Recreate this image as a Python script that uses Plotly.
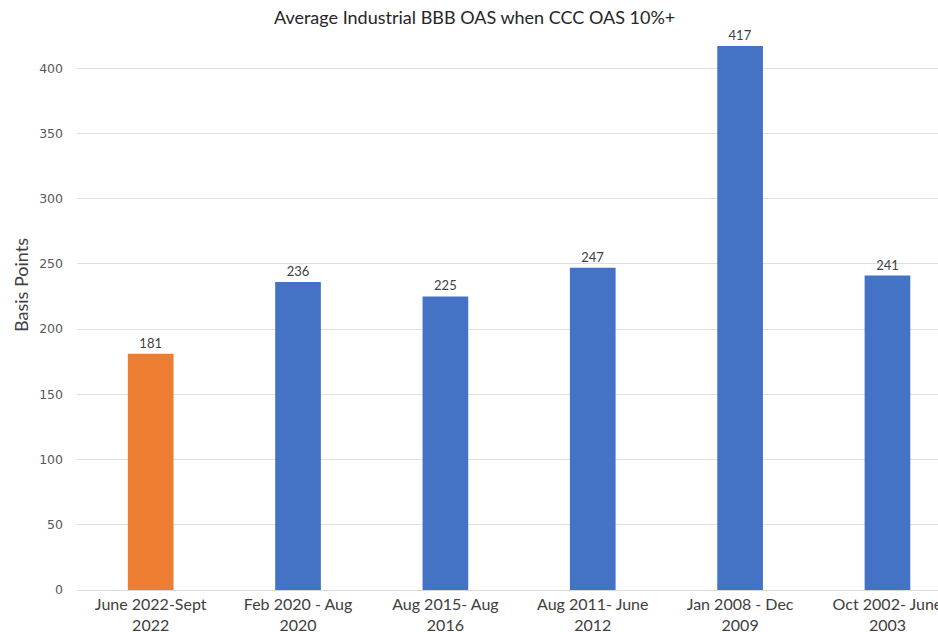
import plotly.graph_objects as go

categories = ["June 2022-Sept<br>2022", "Feb 2020 - Aug<br>2020", "Aug 2015- Aug<br>2016",
              "Aug 2011- June<br>2012", "Jan 2008 - Dec<br>2009", "Oct 2002- June<br>2003"]
values = [181, 236, 225, 247, 417, 241]
colors = ["#ED7D31", "#4472C4", "#4472C4", "#4472C4", "#4472C4", "#4472C4"]
y_ticks = [0, 50, 100, 150, 200, 250, 300, 350, 400]

fig = go.Figure(go.Bar(
    x=list(range(len(categories))), y=values, marker=dict(color=colors, line=dict(width=0)),
    width=0.31, text=[str(v) for v in values], textposition="outside",
    textfont=dict(family="Lato", size=13, color="#404040"), cliponaxis=False,
))
fig.update_layout(
    width=938, height=632,
    margin=dict(l=77, r=0, t=29, b=42),
    paper_bgcolor="white", plot_bgcolor="white",
    font=dict(family="Lato", color="#595959"),
    title=dict(text="Average Industrial BBB OAS when CCC OAS 10%+", x=0.506, xanchor="center",
               y=0.972, yanchor="middle", font=dict(family="Lato", size=18, color="#262626")),
    showlegend=False,
    annotations=[dict(text="Basis Points", textangle=-90, xref="paper", yref="paper",
                      x=-0.065, y=0.5437, xanchor="center", yanchor="middle", showarrow=False,
                      font=dict(family="Lato", size=18, color="#404040"))],
)
fig.update_xaxes(
    tickmode="array", tickvals=list(range(len(categories))), ticktext=categories,
    range=[-0.5, 5.343], showgrid=False, showline=True, linecolor="#d9d9d9", linewidth=1,
    tickfont=dict(family="Lato", size=16, color="#404040"), ticks="", zeroline=False,
    ticklabeloverflow="allow", automargin=False,
)
fig.update_yaxes(
    range=[0, 430], tickvals=y_ticks, showgrid=True, gridcolor="#e0e0e0", gridwidth=1,
    zeroline=False, showline=False, ticks="", ticklabelstandoff=13, automargin=False,
    tickfont=dict(family="DejaVu Sans", size=12.5, color="#595959"),
)
fig.write_html("out.html")
